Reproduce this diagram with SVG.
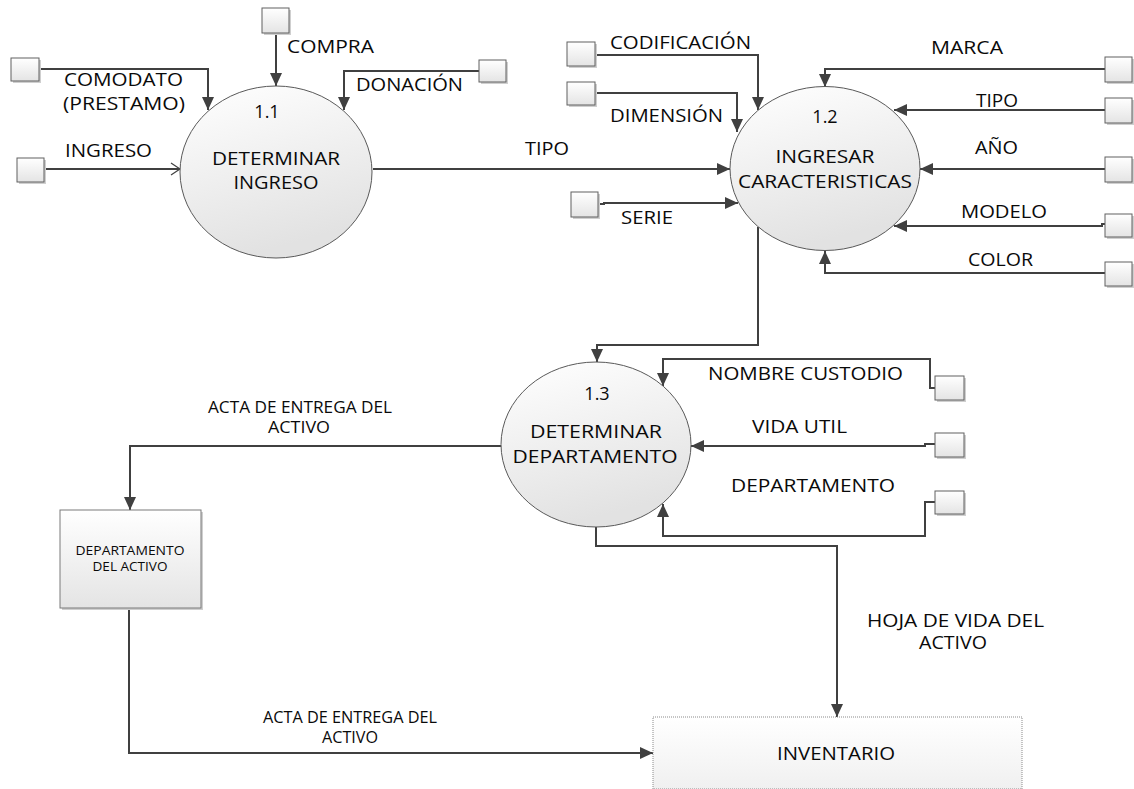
<svg xmlns="http://www.w3.org/2000/svg" width="1134" height="789" viewBox="0 0 1134 789">
<defs>
<linearGradient id="gCirc" x1="0" y1="0" x2="0.3" y2="1">
<stop offset="0" stop-color="#ffffff"/>
<stop offset="1" stop-color="#e2e2e2"/>
</linearGradient>
<linearGradient id="gBox" x1="0" y1="0" x2="0" y2="1">
<stop offset="0" stop-color="#ffffff"/>
<stop offset="1" stop-color="#e4e4e4"/>
</linearGradient>
<linearGradient id="gInv" x1="0" y1="0" x2="0" y2="1">
<stop offset="0" stop-color="#ffffff"/>
<stop offset="1" stop-color="#f0f0f0"/>
</linearGradient>
<marker id="arr" markerUnits="userSpaceOnUse" markerWidth="14" markerHeight="12" refX="13" refY="6" orient="auto">
<path d="M0,0 L13,6 L0,12 z" fill="#404040"/>
</marker>
<marker id="open" markerUnits="userSpaceOnUse" markerWidth="12" markerHeight="14" refX="10" refY="7" orient="auto">
<path d="M1,1 L10,7 L1,13" fill="none" stroke="#404040" stroke-width="1.2"/>
</marker>
</defs>
<style>
.proc{fill:url(#gCirc);stroke:#595959;stroke-width:1}
.st{fill:url(#gBox);stroke:#606060;stroke-width:1}
.sh{fill:#cfcfcf}
.ln{fill:none;stroke:#404040;stroke-width:2}
.a{marker-end:url(#arr)}
text{font-family:"Open Sans","Liberation Sans",sans-serif;fill:#0a0a0a}
.nl{font-size:18px;text-anchor:middle}
.fl{font-size:18px}
.sm{font-size:16px}
</style>
<rect width="1134" height="789" fill="#ffffff"/>

<g id="connectors">
<path class="ln a" d="M39,69 H208 V110"/>
<path class="ln a" d="M276,33 V86"/>
<path class="ln a" d="M479,71 H344 V110"/>
<path class="ln" style="marker-end:url(#open)" d="M44,169 H180"/>
<path class="ln a" d="M373,169 H730"/>
<path class="ln a" d="M597,55 H758 V110"/>
<path class="ln a" d="M597,93 H737 V132"/>
<path class="ln a" d="M599,204 H604 V203 H738"/>
<path class="ln a" d="M1105,69 H825 V87"/>
<path class="ln a" d="M1105,110 H894"/>
<path class="ln a" d="M1105,169 H920"/>
<path class="ln a" d="M1105,224 H1102 V226 H894"/>
<path class="ln a" d="M1105,273 H825 V251"/>
<path class="ln a" d="M758,227 V345 H597 V362"/>
<path class="ln a" d="M935,388 H930 V359 H663 V386"/>
<path class="ln a" d="M935,444 H925 V446 H691"/>
<path class="ln a" d="M935,502 H925 V536 H663 V504"/>
<path class="ln a" d="M596,527 V546 H837 V717"/>
<path class="ln a" d="M502,446 H130 V510"/>
<path class="ln a" d="M129,608 V753 H653"/>
</g>

<g id="flow-labels">
<text class="fl" x="287" y="53" textLength="87" lengthAdjust="spacingAndGlyphs">COMPRA</text>
<text class="fl" x="64" y="86" textLength="119" lengthAdjust="spacingAndGlyphs">COMODATO</text>
<text class="fl" x="63" y="110" textLength="122" lengthAdjust="spacingAndGlyphs">(PRESTAMO)</text>
<text class="fl" x="356" y="91" textLength="107" lengthAdjust="spacingAndGlyphs">DONACIÓN</text>
<text class="fl" x="65" y="157" textLength="87" lengthAdjust="spacingAndGlyphs">INGRESO</text>
<text class="fl" x="525" y="155" textLength="44" lengthAdjust="spacingAndGlyphs">TIPO</text>
<text class="fl" x="610" y="49" textLength="141" lengthAdjust="spacingAndGlyphs">CODIFICACIÓN</text>
<text class="fl" x="610" y="122" textLength="113" lengthAdjust="spacingAndGlyphs">DIMENSIÓN</text>
<text class="fl" x="621" y="224" textLength="52" lengthAdjust="spacingAndGlyphs">SERIE</text>
<text class="fl" x="931" y="54" textLength="72" lengthAdjust="spacingAndGlyphs">MARCA</text>
<text class="fl" x="976" y="107" textLength="42" lengthAdjust="spacingAndGlyphs">TIPO</text>
<text class="fl" x="975" y="154" textLength="43" lengthAdjust="spacingAndGlyphs">AÑO</text>
<text class="fl" x="961" y="218" textLength="86" lengthAdjust="spacingAndGlyphs">MODELO</text>
<text class="fl" x="968" y="266" textLength="65" lengthAdjust="spacingAndGlyphs">COLOR</text>
<text class="fl" x="708" y="380" textLength="195" lengthAdjust="spacingAndGlyphs">NOMBRE CUSTODIO</text>
<text class="fl" x="752" y="433" textLength="95" lengthAdjust="spacingAndGlyphs">VIDA UTIL</text>
<text class="fl" x="731" y="492" textLength="164" lengthAdjust="spacingAndGlyphs">DEPARTAMENTO</text>
<text class="sm" x="208" y="413" textLength="184" lengthAdjust="spacingAndGlyphs">ACTA DE ENTREGA DEL</text>
<text class="sm" x="268" y="433" textLength="62" lengthAdjust="spacingAndGlyphs">ACTIVO</text>
<text class="sm" x="263" y="723" textLength="174" lengthAdjust="spacingAndGlyphs">ACTA DE ENTREGA DEL</text>
<text class="sm" x="322" y="743" textLength="56" lengthAdjust="spacingAndGlyphs">ACTIVO</text>
<text class="fl" x="867" y="627" textLength="177" lengthAdjust="spacingAndGlyphs">HOJA DE VIDA DEL</text>
<text class="fl" x="919" y="649" textLength="68" lengthAdjust="spacingAndGlyphs">ACTIVO</text>
</g>

<g id="p1-1">
<ellipse class="proc" cx="276" cy="172" rx="96" ry="86"/>
<text class="nl" x="267" y="118">1.1</text>
<text class="nl" x="276" y="165" textLength="128" lengthAdjust="spacingAndGlyphs">DETERMINAR</text>
<text class="nl" x="276" y="189" textLength="85" lengthAdjust="spacingAndGlyphs">INGRESO</text>
</g>

<g id="p1-2">
<ellipse class="proc" cx="825" cy="168.5" rx="95" ry="82"/>
<text class="nl" x="825" y="123">1.2</text>
<text class="nl" x="825" y="163" textLength="99" lengthAdjust="spacingAndGlyphs">INGRESAR</text>
<text class="nl" x="825" y="188" textLength="174" lengthAdjust="spacingAndGlyphs">CARACTERISTICAS</text>
</g>

<g id="p1-3">
<ellipse class="proc" cx="596" cy="444.5" rx="95" ry="82.5"/>
<text class="nl" x="597" y="400">1.3</text>
<text class="nl" x="596" y="438" textLength="132" lengthAdjust="spacingAndGlyphs">DETERMINAR</text>
<text class="nl" x="595" y="463" textLength="165" lengthAdjust="spacingAndGlyphs">DEPARTAMENTO</text>
</g>

<g id="e-comodato"><rect class="sh" x="13" y="60" width="28" height="23"/><rect class="st" x="11" y="58" width="28" height="23"/></g>
<g id="e-compra"><rect class="sh" x="264" y="10" width="27" height="25"/><rect class="st" x="262" y="8" width="27" height="25"/></g>
<g id="e-donacion"><rect class="sh" x="481" y="62" width="27" height="22"/><rect class="st" x="479" y="60" width="27" height="22"/></g>
<g id="e-ingreso"><rect class="sh" x="19" y="160" width="27" height="24"/><rect class="st" x="17" y="158" width="27" height="24"/></g>
<g id="e-codificacion"><rect class="sh" x="569" y="44" width="28" height="24"/><rect class="st" x="567" y="42" width="28" height="24"/></g>
<g id="e-dimension"><rect class="sh" x="569" y="84" width="28" height="23"/><rect class="st" x="567" y="82" width="28" height="23"/></g>
<g id="e-serie"><rect class="sh" x="573" y="194" width="27" height="25"/><rect class="st" x="571" y="192" width="27" height="25"/></g>
<g id="e-marca"><rect class="sh" x="1107" y="59" width="27" height="25"/><rect class="st" x="1105" y="57" width="27" height="25"/></g>
<g id="e-tipo"><rect class="sh" x="1107" y="100" width="27" height="25"/><rect class="st" x="1105" y="98" width="27" height="25"/></g>
<g id="e-anio"><rect class="sh" x="1107" y="159" width="27" height="25"/><rect class="st" x="1105" y="157" width="27" height="25"/></g>
<g id="e-modelo"><rect class="sh" x="1107" y="216" width="27" height="23"/><rect class="st" x="1105" y="214" width="27" height="23"/></g>
<g id="e-color"><rect class="sh" x="1107" y="264" width="27" height="24"/><rect class="st" x="1105" y="262" width="27" height="24"/></g>
<g id="e-custodio"><rect class="sh" x="937" y="378" width="29" height="24"/><rect class="st" x="935" y="376" width="29" height="24"/></g>
<g id="e-vidautil"><rect class="sh" x="937" y="435" width="29" height="24"/><rect class="st" x="935" y="433" width="29" height="24"/></g>
<g id="e-departamento"><rect class="sh" x="937" y="493" width="29" height="23"/><rect class="st" x="935" y="491" width="29" height="23"/></g>

<g id="departamento-activo">
<rect class="sh" x="62" y="512" width="141" height="98"/>
<rect class="st" x="60" y="510" width="141" height="98" style="stroke:#7a7a7a"/>
<text x="130" y="555" style="font-size:12px;text-anchor:middle" textLength="109" lengthAdjust="spacingAndGlyphs">DEPARTAMENTO</text>
<text x="130" y="571" style="font-size:12px;text-anchor:middle" textLength="75" lengthAdjust="spacingAndGlyphs">DEL ACTIVO</text>
</g>

<g id="inventario">
<rect x="653" y="717" width="369" height="72" fill="url(#gInv)" stroke="#8a8a8a" stroke-width="1" stroke-dasharray="1,1"/>
<text x="836" y="760" style="font-size:19px;text-anchor:middle" textLength="118" lengthAdjust="spacingAndGlyphs">INVENTARIO</text>
</g>
</svg>
